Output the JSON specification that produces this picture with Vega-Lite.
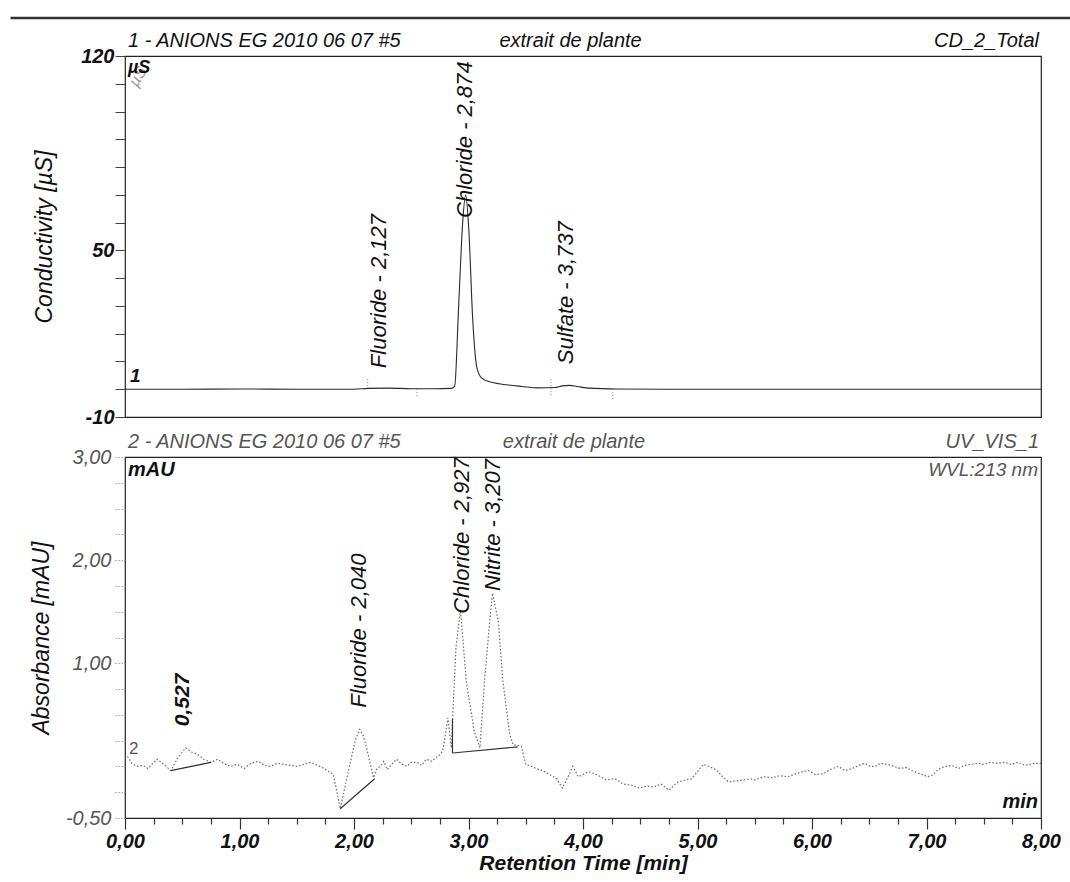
{
  "$schema": "https://vega.github.io/schema/vega-lite/v6.json",
  "background": "white",
  "padding": {"left": 8, "top": 16, "right": 0, "bottom": 4},
  "config": {
    "font": "Liberation Sans",
    "view": {"stroke": "#222", "strokeWidth": 1.2},
    "text": {"font": "Liberation Sans"}
  },
  "spacing": 40,
  "bounds": "flush",
  "datasets": {
    "cd": [
      {"time": 0, "value": 0}, {"time": 0.5, "value": 0}, {"time": 1.0, "value": 0.1}, {"time": 1.5, "value": 0},
      {"time": 2.0, "value": 0}, {"time": 2.12, "value": 0.3}, {"time": 2.3, "value": 0.4}, {"time": 2.5, "value": 0.2},
      {"time": 2.7, "value": 0.2}, {"time": 2.85, "value": 0.3}, {"time": 2.879, "value": 1}, {"time": 2.914, "value": 30},
      {"time": 2.949, "value": 60}, {"time": 2.975, "value": 70}, {"time": 3.002, "value": 58}, {"time": 3.037, "value": 25},
      {"time": 3.072, "value": 8}, {"time": 3.116, "value": 4}, {"time": 3.2, "value": 2.5}, {"time": 3.266, "value": 2},
      {"time": 3.35, "value": 1.5}, {"time": 3.468, "value": 1}, {"time": 3.6, "value": 0.5}, {"time": 3.75, "value": 0.6},
      {"time": 3.82, "value": 1.2}, {"time": 3.88, "value": 1.4}, {"time": 3.95, "value": 1.0}, {"time": 4.05, "value": 0.4},
      {"time": 4.3, "value": 0.1}, {"time": 5, "value": 0}, {"time": 6, "value": 0}, {"time": 7, "value": 0}, {"time": 8, "value": 0}
    ],
    "cdmark": [
      {"time": 2.12, "v1": 3.6, "v2": 0.4},
      {"time": 2.55, "v1": 0, "v2": -3.2},
      {"time": 3.72, "v1": 3.6, "v2": -2.5},
      {"time": 4.26, "v1": 0, "v2": -3.6}
    ],
    "cdlab": [
      {"label": "Fluoride - 2,127", "time": 2.22, "value": 7.6},
      {"label": "Chloride - 2,874", "time": 2.97, "value": 61.7},
      {"label": "Sulfate - 3,737", "time": 3.85, "value": 9}
    ],
    "uv": [
      {"time": 0.00, "value": 0.08}, {"time": 0.02, "value": 0.10}, {"time": 0.06, "value": 0.03}, {"time": 0.11, "value": 0.00},
      {"time": 0.16, "value": 0.01}, {"time": 0.20, "value": -0.02}, {"time": 0.28, "value": 0.07}, {"time": 0.34, "value": 0.02},
      {"time": 0.40, "value": -0.04}, {"time": 0.46, "value": 0.08}, {"time": 0.53, "value": 0.18}, {"time": 0.58, "value": 0.14},
      {"time": 0.63, "value": 0.12}, {"time": 0.69, "value": 0.07}, {"time": 0.75, "value": 0.04}, {"time": 0.81, "value": 0.07},
      {"time": 0.86, "value": 0.03}, {"time": 0.92, "value": 0.00}, {"time": 0.98, "value": 0.02}, {"time": 1.04, "value": -0.02},
      {"time": 1.10, "value": 0.03}, {"time": 1.16, "value": 0.05}, {"time": 1.22, "value": 0.01}, {"time": 1.27, "value": 0.00},
      {"time": 1.33, "value": 0.03}, {"time": 1.39, "value": 0.02}, {"time": 1.45, "value": 0.01}, {"time": 1.50, "value": 0.00},
      {"time": 1.56, "value": 0.02}, {"time": 1.62, "value": 0.04}, {"time": 1.68, "value": 0.01}, {"time": 1.74, "value": -0.02},
      {"time": 1.82, "value": -0.08}, {"time": 1.88, "value": -0.41}, {"time": 1.93, "value": -0.15}, {"time": 1.97, "value": 0.05},
      {"time": 2.01, "value": 0.25}, {"time": 2.05, "value": 0.36}, {"time": 2.08, "value": 0.30}, {"time": 2.11, "value": 0.18},
      {"time": 2.17, "value": -0.11}, {"time": 2.20, "value": -0.02}, {"time": 2.23, "value": 0.00}, {"time": 2.26, "value": 0.05},
      {"time": 2.29, "value": -0.03}, {"time": 2.33, "value": 0.02}, {"time": 2.37, "value": 0.07}, {"time": 2.41, "value": 0.03},
      {"time": 2.46, "value": 0.00}, {"time": 2.50, "value": 0.04}, {"time": 2.55, "value": 0.04}, {"time": 2.59, "value": 0.01},
      {"time": 2.63, "value": 0.07}, {"time": 2.68, "value": 0.05}, {"time": 2.72, "value": 0.09}, {"time": 2.76, "value": 0.12},
      {"time": 2.78, "value": 0.18}, {"time": 2.82, "value": 0.47}, {"time": 2.85, "value": 0.18}, {"time": 2.89, "value": 1.15},
      {"time": 2.93, "value": 1.52}, {"time": 2.98, "value": 0.83}, {"time": 3.05, "value": 0.34}, {"time": 3.10, "value": 0.18},
      {"time": 3.14, "value": 0.83}, {"time": 3.19, "value": 1.47}, {"time": 3.21, "value": 1.68}, {"time": 3.26, "value": 1.41},
      {"time": 3.30, "value": 0.83}, {"time": 3.36, "value": 0.31}, {"time": 3.39, "value": 0.21}, {"time": 3.46, "value": 0.20},
      {"time": 3.50, "value": 0.02}, {"time": 3.55, "value": 0.00}, {"time": 3.59, "value": -0.02}, {"time": 3.65, "value": -0.04},
      {"time": 3.71, "value": -0.08}, {"time": 3.77, "value": -0.12}, {"time": 3.82, "value": -0.21}, {"time": 3.87, "value": -0.10},
      {"time": 3.91, "value": 0.00}, {"time": 3.96, "value": -0.10}, {"time": 4.05, "value": -0.05}, {"time": 4.12, "value": -0.08},
      {"time": 4.20, "value": -0.13}, {"time": 4.28, "value": -0.12}, {"time": 4.35, "value": -0.17}, {"time": 4.42, "value": -0.18},
      {"time": 4.49, "value": -0.21}, {"time": 4.56, "value": -0.19}, {"time": 4.62, "value": -0.20}, {"time": 4.68, "value": -0.17},
      {"time": 4.75, "value": -0.23}, {"time": 4.83, "value": -0.15}, {"time": 4.90, "value": -0.13}, {"time": 4.95, "value": -0.12},
      {"time": 5.00, "value": -0.05}, {"time": 5.05, "value": 0.02}, {"time": 5.10, "value": 0.00}, {"time": 5.16, "value": -0.03},
      {"time": 5.22, "value": -0.10}, {"time": 5.27, "value": -0.15}, {"time": 5.34, "value": -0.14}, {"time": 5.40, "value": -0.13},
      {"time": 5.46, "value": -0.12}, {"time": 5.50, "value": -0.13}, {"time": 5.58, "value": -0.10}, {"time": 5.65, "value": -0.11},
      {"time": 5.72, "value": -0.09}, {"time": 5.79, "value": -0.10}, {"time": 5.86, "value": -0.07}, {"time": 5.92, "value": -0.05},
      {"time": 5.97, "value": -0.04}, {"time": 6.03, "value": -0.08}, {"time": 6.10, "value": -0.07}, {"time": 6.16, "value": -0.03},
      {"time": 6.23, "value": 0.00}, {"time": 6.29, "value": -0.04}, {"time": 6.35, "value": -0.02}, {"time": 6.41, "value": 0.01},
      {"time": 6.46, "value": 0.03}, {"time": 6.51, "value": 0.00}, {"time": 6.55, "value": 0.00}, {"time": 6.60, "value": 0.03},
      {"time": 6.66, "value": 0.02}, {"time": 6.72, "value": 0.00}, {"time": 6.77, "value": -0.02}, {"time": 6.82, "value": -0.01},
      {"time": 6.87, "value": -0.04}, {"time": 6.94, "value": -0.07}, {"time": 7.01, "value": -0.10}, {"time": 7.06, "value": -0.08},
      {"time": 7.10, "value": -0.03}, {"time": 7.16, "value": 0.00}, {"time": 7.22, "value": 0.01}, {"time": 7.28, "value": -0.02},
      {"time": 7.33, "value": 0.01}, {"time": 7.39, "value": 0.02}, {"time": 7.45, "value": 0.03}, {"time": 7.50, "value": 0.02},
      {"time": 7.56, "value": 0.04}, {"time": 7.62, "value": 0.03}, {"time": 7.68, "value": 0.04}, {"time": 7.74, "value": 0.02},
      {"time": 7.80, "value": 0.04}, {"time": 7.86, "value": 0.01}, {"time": 7.94, "value": 0.03}, {"time": 8.00, "value": 0.03}
    ],
    "uvbase": [
      {"t1": 0.40, "v1": -0.04, "t2": 0.75, "v2": 0.04},
      {"t1": 1.88, "v1": -0.41, "t2": 2.18, "v2": -0.12},
      {"t1": 2.86, "v1": 0.13, "t2": 3.43, "v2": 0.19},
      {"t1": 2.86, "v1": 0.13, "t2": 2.86, "v2": 0.46}
    ],
    "uvlab": [
      {"label": "Fluoride - 2,040", "time": 2.04, "value": 0.57},
      {"label": "Chloride - 2,927", "time": 2.94, "value": 1.48},
      {"label": "Nitrite - 3,207", "time": 3.21, "value": 1.70}
    ],
    "uvlab2": [
      {"label": "0,527", "time": 0.51, "value": 0.39}
    ]
  },
  "vconcat": [
    {
      "width": 916,
      "height": 361,
      "layer": [
        {
          "data": {"name": "cd"},
          "mark": {"type": "line", "color": "#2a2a2a", "strokeWidth": 1.1, "interpolate": "monotone"},
          "encoding": {
            "x": {"field": "time", "type": "quantitative", "scale": {"domain": [0, 8], "nice": false, "zero": false}, "axis": null},
            "y": {
              "field": "value", "type": "quantitative",
              "scale": {"domain": [-10, 120], "nice": false, "zero": false},
              "axis": {
                "title": "Conductivity [µS]",
                "values": [-10, 0, 10, 20, 30, 40, 50, 60, 70, 80, 90, 100, 110, 120],
                "tickCount": 200,
                "labelExpr": "datum.value == 120 ? '120' : datum.value == 50 ? '50' : datum.value == -10 ? '-10' : ''",
                "labelFont": "Liberation Sans", "labelFontSize": 20, "labelFontStyle": "italic", "labelFontWeight": "bold", "labelColor": "#111",
                "tickSize": 10, "tickColor": "#444", "tickWidth": 1,
                "labelPadding": 1, "domain": false, "grid": false,
                "labelOverlap": false, "labelFlush": false, "labelBound": false,
                "titleFont": "Liberation Sans", "titleFontSize": 23, "titleFontStyle": "italic", "titleFontWeight": "normal", "titleColor": "#111", "titlePadding": 24
              }
            }
          }
        },
        {
          "data": {"name": "cdmark"},
          "mark": {"type": "rule", "color": "#777", "strokeDash": [1, 2], "strokeWidth": 1},
          "encoding": {
            "x": {"field": "time", "type": "quantitative"},
            "y": {"field": "v1", "type": "quantitative"},
            "y2": {"field": "v2"}
          }
        },
        {
          "data": {"name": "cdlab"},
          "mark": {"type": "text", "angle": 270, "align": "left", "baseline": "middle", "fontSize": 22, "fontStyle": "italic", "color": "#111"},
          "encoding": {
            "x": {"field": "time", "type": "quantitative"},
            "y": {"field": "value", "type": "quantitative"},
            "text": {"field": "label"}
          }
        },
        {
          "data": {"values": [{}]},
          "mark": {"type": "rule", "color": "#333", "strokeWidth": 2.5},
          "encoding": {
            "x": {"datum": -1.0, "type": "quantitative"},
            "x2": {"datum": 8.28},
            "y": {"datum": 133.7, "type": "quantitative"}
          }
        },
        {
          "data": {"values": [{}]},
          "mark": {"type": "text", "align": "left", "baseline": "alphabetic", "dx": 3, "dy": -9, "fontSize": 20, "fontStyle": "italic", "color": "#111", "text": "1 - ANIONS EG 2010 06 07 #5"},
          "encoding": {"x": {"datum": 0, "type": "quantitative"}, "y": {"datum": 120, "type": "quantitative"}}
        },
        {
          "data": {"values": [{}]},
          "mark": {"type": "text", "align": "left", "baseline": "alphabetic", "dy": -9, "fontSize": 20, "fontStyle": "italic", "color": "#111", "text": "extrait de plante"},
          "encoding": {"x": {"datum": 3.27, "type": "quantitative"}, "y": {"datum": 120, "type": "quantitative"}}
        },
        {
          "data": {"values": [{}]},
          "mark": {"type": "text", "align": "right", "baseline": "alphabetic", "dx": -2, "dy": -9, "fontSize": 20, "fontStyle": "italic", "color": "#111", "text": "CD_2_Total"},
          "encoding": {"x": {"datum": 8, "type": "quantitative"}, "y": {"datum": 120, "type": "quantitative"}}
        },
        {
          "data": {"values": [{}]},
          "mark": {"type": "text", "align": "left", "baseline": "bottom", "angle": 300, "fontSize": 16, "fontStyle": "italic", "color": "#999", "text": "µS"},
          "encoding": {"x": {"datum": 0.13, "type": "quantitative"}, "y": {"datum": 108, "type": "quantitative"}}
        },
        {
          "data": {"values": [{}]},
          "mark": {"type": "text", "align": "left", "baseline": "top", "dx": 3, "dy": 3, "fontSize": 18, "fontStyle": "italic", "fontWeight": "bold", "color": "#111", "text": "µS"},
          "encoding": {"x": {"datum": 0, "type": "quantitative"}, "y": {"datum": 120, "type": "quantitative"}}
        },
        {
          "data": {"values": [{}]},
          "mark": {"type": "text", "align": "left", "baseline": "bottom", "dx": 5, "dy": -3, "fontSize": 19, "fontStyle": "italic", "fontWeight": "bold", "color": "#111", "text": "1"},
          "encoding": {"x": {"datum": 0, "type": "quantitative"}, "y": {"datum": 0, "type": "quantitative"}}
        }
      ]
    },
    {
      "width": 916,
      "height": 361,
      "layer": [
        {
          "data": {"name": "uv"},
          "mark": {"type": "line", "color": "#6a6a6a", "strokeWidth": 1.2, "strokeDash": [1.5, 2]},
          "encoding": {
            "x": {
              "field": "time", "type": "quantitative",
              "scale": {"domain": [0, 8], "nice": false, "zero": false},
              "axis": {
                "title": "Retention Time [min]",
                "values": [0, 0.25, 0.5, 0.75, 1, 1.25, 1.5, 1.75, 2, 2.25, 2.5, 2.75, 3, 3.25, 3.5, 3.75, 4, 4.25, 4.5, 4.75, 5, 5.25, 5.5, 5.75, 6, 6.25, 6.5, 6.75, 7, 7.25, 7.5, 7.75, 8],
                "tickCount": 200,
                "labelExpr": "datum.value % 1 === 0 ? format(datum.value, '.0f') + ',00' : ''",
                "tickSize": {"condition": {"test": "datum.value % 1 === 0", "value": 11}, "value": 6},
                "tickColor": "#333", "tickWidth": 1.2,
                "domain": true, "domainColor": "#222", "domainWidth": 1.2,
                "grid": false, "labelOverlap": false, "labelFlush": false, "labelBound": false,
                "labelFont": "Liberation Sans", "labelFontSize": 20, "labelFontStyle": "italic", "labelFontWeight": "bold", "labelColor": "#111", "labelPadding": 2,
                "titleFont": "Liberation Sans", "titleFontSize": 21, "titleFontStyle": "italic", "titleFontWeight": "bold", "titleColor": "#111", "titlePadding": 1
              }
            },
            "y": {
              "field": "value", "type": "quantitative",
              "scale": {"domain": [-0.5, 3], "nice": false, "zero": false},
              "axis": {
                "title": "Absorbance [mAU]",
                "values": [-0.5, -0.25, 0, 0.25, 0.5, 0.75, 1, 1.25, 1.5, 1.75, 2, 2.25, 2.5, 2.75, 3],
                "tickCount": 200,
                "labelExpr": "datum.value == 3 ? '3,00' : datum.value == 2 ? '2,00' : datum.value == 1 ? '1,00' : datum.value == -0.5 ? '-0,50' : ''",
                "labelFont": "Liberation Sans", "labelFontSize": 20, "labelFontStyle": "italic", "labelFontWeight": "normal", "labelColor": "#555",
                "tickSize": 12, "tickColor": "#777", "tickDash": [1, 2], "tickWidth": 1,
                "labelPadding": 2, "domain": false, "grid": false,
                "labelOverlap": false, "labelFlush": false, "labelBound": false,
                "titleFont": "Liberation Sans", "titleFontSize": 23, "titleFontStyle": "italic", "titleFontWeight": "normal", "titleColor": "#111", "titlePadding": 12
              }
            }
          }
        },
        {
          "data": {"name": "uvbase"},
          "mark": {"type": "rule", "color": "#333", "strokeWidth": 1.2},
          "encoding": {
            "x": {"field": "t1", "type": "quantitative"},
            "x2": {"field": "t2"},
            "y": {"field": "v1", "type": "quantitative"},
            "y2": {"field": "v2"}
          }
        },
        {
          "data": {"name": "uvlab"},
          "mark": {"type": "text", "angle": 270, "align": "left", "baseline": "middle", "fontSize": 22, "fontStyle": "italic", "color": "#111"},
          "encoding": {
            "x": {"field": "time", "type": "quantitative"},
            "y": {"field": "value", "type": "quantitative"},
            "text": {"field": "label"}
          }
        },
        {
          "data": {"name": "uvlab2"},
          "mark": {"type": "text", "angle": 270, "align": "left", "baseline": "middle", "fontSize": 21, "fontStyle": "italic", "fontWeight": "bold", "color": "#111"},
          "encoding": {
            "x": {"field": "time", "type": "quantitative"},
            "y": {"field": "value", "type": "quantitative"},
            "text": {"field": "label"}
          }
        },
        {
          "data": {"values": [{}]},
          "mark": {"type": "text", "align": "left", "baseline": "alphabetic", "dx": 3, "dy": -9, "fontSize": 20, "fontStyle": "italic", "color": "#555", "text": "2 - ANIONS EG 2010 06 07 #5"},
          "encoding": {"x": {"datum": 0, "type": "quantitative"}, "y": {"datum": 3, "type": "quantitative"}}
        },
        {
          "data": {"values": [{}]},
          "mark": {"type": "text", "align": "left", "baseline": "alphabetic", "dy": -9, "fontSize": 20, "fontStyle": "italic", "color": "#555", "text": "extrait de plante"},
          "encoding": {"x": {"datum": 3.3, "type": "quantitative"}, "y": {"datum": 3, "type": "quantitative"}}
        },
        {
          "data": {"values": [{}]},
          "mark": {"type": "text", "align": "right", "baseline": "alphabetic", "dx": -2, "dy": -9, "fontSize": 20, "fontStyle": "italic", "color": "#555", "text": "UV_VIS_1"},
          "encoding": {"x": {"datum": 8, "type": "quantitative"}, "y": {"datum": 3, "type": "quantitative"}}
        },
        {
          "data": {"values": [{}]},
          "mark": {"type": "text", "align": "right", "baseline": "top", "dx": -3, "dy": 4, "fontSize": 19, "fontStyle": "italic", "color": "#555", "text": "WVL:213 nm"},
          "encoding": {"x": {"datum": 8, "type": "quantitative"}, "y": {"datum": 3, "type": "quantitative"}}
        },
        {
          "data": {"values": [{}]},
          "mark": {"type": "text", "align": "left", "baseline": "top", "dx": 3, "dy": 3, "fontSize": 20, "fontStyle": "italic", "fontWeight": "bold", "color": "#111", "text": "mAU"},
          "encoding": {"x": {"datum": 0, "type": "quantitative"}, "y": {"datum": 3, "type": "quantitative"}}
        },
        {
          "data": {"values": [{}]},
          "mark": {"type": "text", "align": "left", "baseline": "bottom", "dx": 4, "dy": -8, "fontSize": 17, "color": "#555", "text": "2"},
          "encoding": {"x": {"datum": 0, "type": "quantitative"}, "y": {"datum": 0, "type": "quantitative"}}
        },
        {
          "data": {"values": [{}]},
          "mark": {"type": "text", "align": "right", "baseline": "bottom", "dx": -3, "dy": -6, "fontSize": 20, "fontStyle": "italic", "fontWeight": "bold", "color": "#111", "text": "min"},
          "encoding": {"x": {"datum": 8, "type": "quantitative"}, "y": {"datum": -0.5, "type": "quantitative"}}
        }
      ]
    }
  ]
}
